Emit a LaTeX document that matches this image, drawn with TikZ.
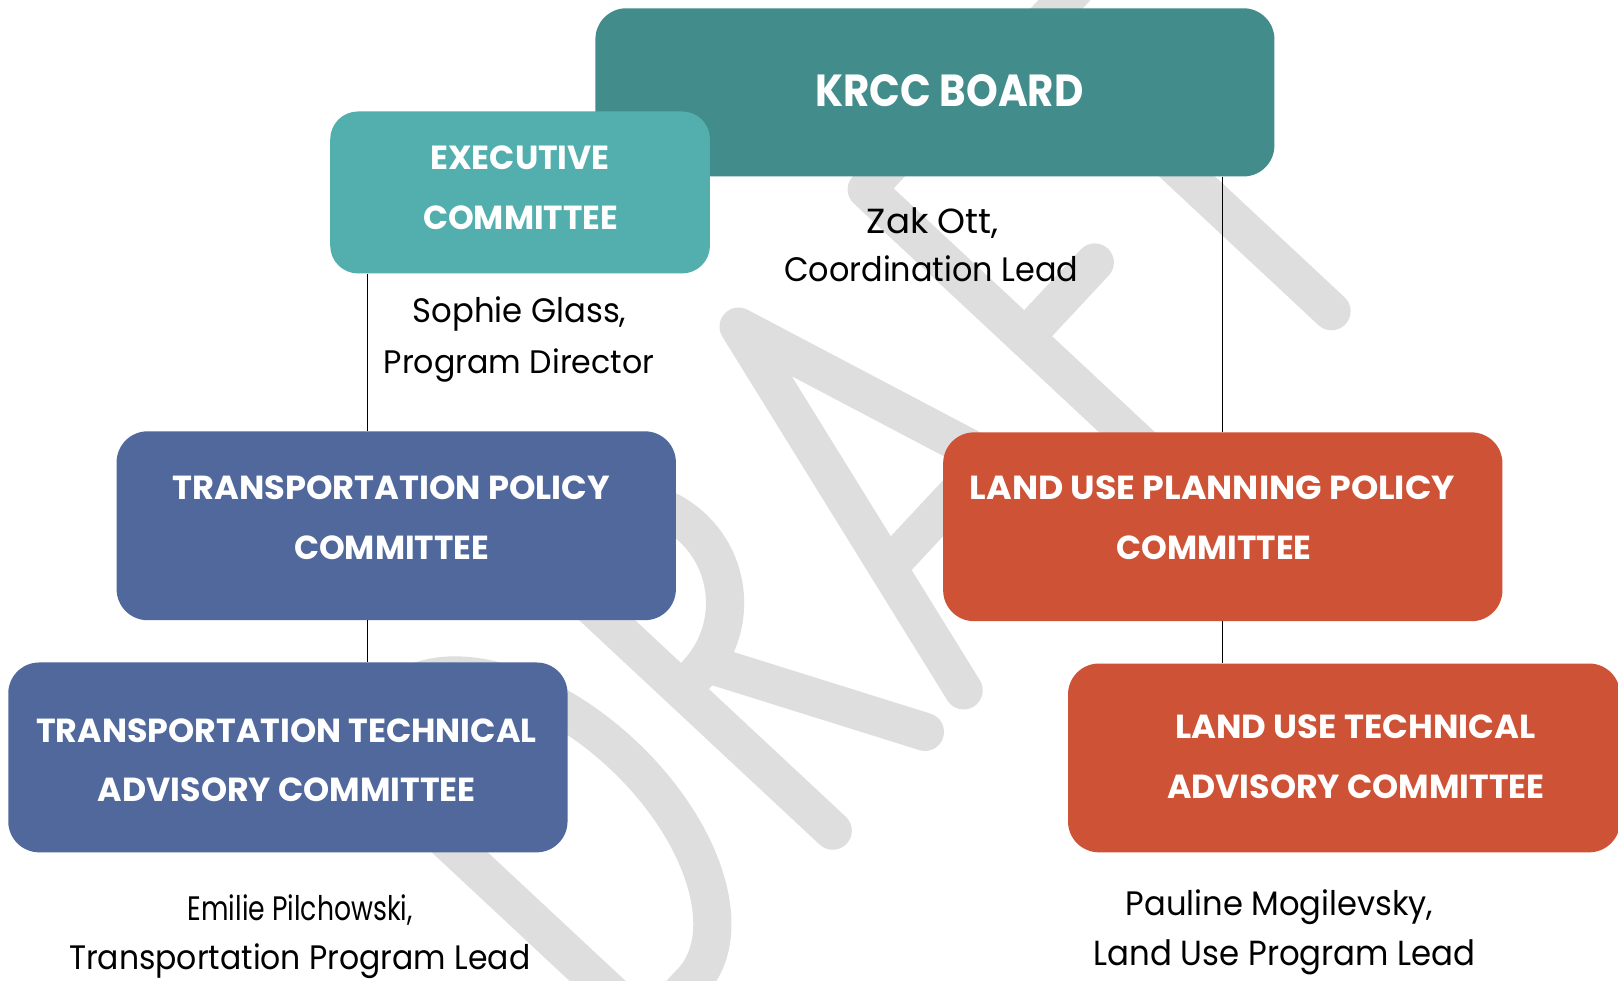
\documentclass[tikz,border=0pt]{standalone}
\usepackage{fontspec}
\usepackage{graphicx}
\setmainfont{Poppins}
\definecolor{krccc}{HTML}{428C8C}
\definecolor{execc}{HTML}{52AFAE}
\definecolor{bluec}{HTML}{50689C}
\definecolor{redc}{HTML}{CE5236}
\definecolor{wmc}{HTML}{DEDEDE}
\newcommand{\hdline}[3]{\resizebox{#1pt}{#2pt}{\bfseries #3}}
\newcommand{\nmline}[3]{\resizebox{#1pt}{#2pt}{#3}}
\tikzset{
  orgbox/.style={rectangle, rounded corners=30pt, inner sep=0pt, draw=none},
  hd/.style={anchor=base, text=white, inner sep=0pt},
  nm/.style={anchor=base, text=black, inner sep=0pt},
  link/.style={draw=black, line width=1.2pt},
  wm/.style={draw=wmc, line width=37pt, line cap=round, line join=round},
}
\begin{document}
\begin{tikzpicture}[x=1pt, y=-1pt]
\path[use as bounding box, fill=white] (0,0) rectangle (1568,950);

% watermark "DRAFT"
\begin{scope}[shift={(807,805)}, x={(0.682pt,0.731pt)}, y={(-0.731pt,0.682pt)}]
  % D
  \draw[wm] (-262,0) -- (-262,400) -- (-200,400)
     .. controls (-136.5,400) and (-85,310.5) .. (-85,200)
     .. controls (-85,89.5) and (-136.5,0) .. (-200,0) -- cycle;
  % R
  \draw[wm] (0,0) -- (0,400) -- (22,400)
     .. controls (77.2,400) and (122,355.2) .. (122,300)
     .. controls (122,244.8) and (77.2,200) .. (22,200) -- (0,200);
  \draw[wm] (35,200) -- (131,0);
  % A
  \draw[wm] (186,0) -- (295,400) -- (404,0);
  \draw[wm] (223,135) -- (367,135);
  % F
  \draw[wm] (640,400) -- (477,400) -- (477,0);
  \draw[wm] (477,190) -- (576,190);
  % T
  \draw[wm] (590,385) -- (806,385);
  \draw[wm] (698,385) -- (698,-10);
\end{scope}

% boxes
\node[orgbox, fill=krccc, minimum width=658pt, minimum height=163pt] (krcc) at (906,89.5) {};
\node[orgbox, fill=execc, rounded corners=27pt, minimum width=368pt, minimum height=157pt] (exec) at (504,186.5) {};
\node[orgbox, fill=bluec, minimum width=542pt, minimum height=183pt] (tpc) at (384,509.5) {};
\node[orgbox, fill=bluec, minimum width=542pt, minimum height=184pt] (ttac) at (279,734) {};
\node[orgbox, fill=redc, minimum width=542pt, minimum height=183pt] (luppc) at (1185,510.5) {};
\node[orgbox, fill=redc, minimum width=535pt, minimum height=183pt] (lutac) at (1302.5,734.5) {};

% connectors
\coordinate (lx) at ([xshift=36pt]exec.south west);
\draw[link] (lx) -- (lx |- tpc.north);
\draw[link] (lx |- tpc.south) -- (lx |- ttac.north);
\draw[link] (krcc.south -| luppc.north) -- (luppc.north);
\draw[link] (luppc.south) -- (luppc.south |- lutac.north);

% box texts
\node[hd] (krcc-t) at (920,103) {\hdline{260}{31}{KRCC BOARD}};
\node[hd] (exec-t1) at (504,164) {\hdline{174}{23}{EXECUTIVE}};
\node[hd] (exec-t2) at (504.5,222) {\hdline{189}{23}{COMMITTEE}};
\node[hd] (tpc-t1) at (379,484) {\hdline{424}{23}{TRANSPORTATION POLICY}};
\node[hd] (tpc-t2) at (379.5,542) {\hdline{189}{23}{COMMITTEE}};
\node[hd] (ttac-t1) at (277.5,720) {\hdline{485}{23}{TRANSPORTATION TECHNICAL}};
\node[hd] (ttac-t2) at (278,777) {\hdline{366}{23}{ADVISORY COMMITTEE}};
\node[hd] (luppc-t1) at (1175,484) {\hdline{470}{23}{LAND USE PLANNING POLICY}};
\node[hd] (luppc-t2) at (1176.5,542) {\hdline{189}{23}{COMMITTEE}};
\node[hd] (lutac-t1) at (1313.5,716) {\hdline{349}{23}{LAND USE TECHNICAL}};
\node[hd] (lutac-t2) at (1314,774) {\hdline{366}{23}{ADVISORY COMMITTEE}};

% names
\node[nm] (zak1) at (904,226) {\nmline{128}{25}{Zak Ott,}};
\node[nm] (zak2) at (902.5,273) {\nmline{285}{25}{Coordination Lead}};
\node[nm] (sophie1) at (503.5,313) {\nmline{207}{25}{Sophie Glass,}};
\node[nm] (sophie2) at (503,362) {\nmline{262}{24}{Program Director}};
\node[nm] (emilie1) at (291,892) {\nmline{218}{25}{Emilie Pilchowski,}};
\node[nm] (emilie2) at (290.5,940) {\nmline{447}{25}{Transportation Program Lead}};
\node[nm] (pauline1) at (1240,887) {\nmline{298}{25}{Pauline Mogilevsky,}};
\node[nm] (pauline2) at (1245,936) {\nmline{370}{25}{Land Use Program Lead}};
\end{tikzpicture}
\end{document}
